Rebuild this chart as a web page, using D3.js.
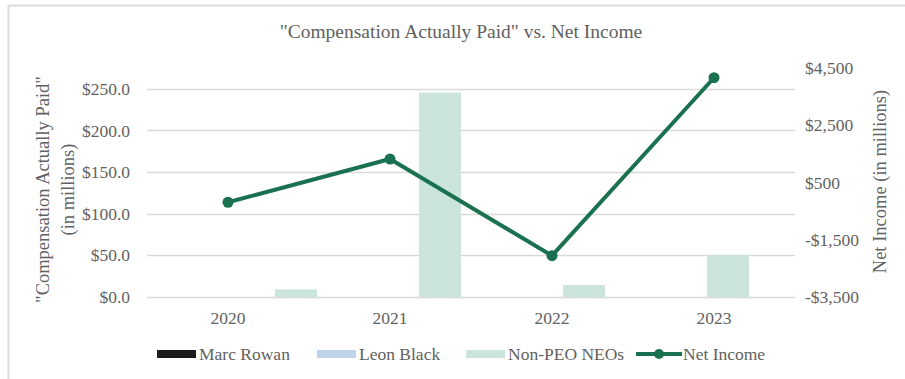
<!DOCTYPE html>
<html>
<head>
<meta charset="utf-8">
<script src="https://cdn.jsdelivr.net/npm/d3@7"></script>
<style>
  body { margin: 0; background: #fff; }
  svg text { font-family: "Liberation Serif", "DejaVu Serif", serif; fill: #616161; }
</style>
</head>
<body>
<svg id="chart" width="905" height="379"></svg>
<script>
// values
var years = ['2020', '2021', '2022', '2023'];
var seriesNames = ['Marc Rowan', 'Leon Black', 'Non-PEO NEOs'];
var marcRowan = [0, 0, 0, 0];
var leonBlack = [0, 0, 0, 0];
var nonPeo = [9.2, 245.5, 14.4, 50.3];
var netIncome = [-190, 1320, -2055, 4160];
var leftTicks = [0, 50, 100, 150, 200, 250];
var rightTicks = [-3500, -1500, 500, 2500, 4500];
var seriesColors = ['#1c1c1c', '#bfd4e8', '#cce5dc'];
var lineColor = '#1a7150';

var svg = d3.select('#chart'),
    margin = {top: 68, right: 110, bottom: 82, left: 147},
    width = +svg.attr('width') - margin.left - margin.right,
    height = +svg.attr('height') - margin.top - margin.bottom;

// frame lines (top + left)
svg.append('line').attr('x1', 8).attr('x2', 905).attr('y1', 5.5).attr('y2', 5.5)
    .attr('stroke', '#dcdcdc').attr('stroke-width', 2);
svg.append('line').attr('x1', 8.5).attr('x2', 8.5).attr('y1', 5).attr('y2', 379)
    .attr('stroke', '#dcdcdc').attr('stroke-width', 2);

var g = svg.append('g')
    .attr('transform', 'translate(' + margin.left + ',' + margin.top + ')');

var x = d3.scalePoint().domain(years).range([0, width]).padding(0.5);
var xBar = d3.scaleBand().domain(years).range([44, 602]).paddingInner(0.125);
var xSeries = d3.scaleBand().domain(seriesNames).range([0, xBar.bandwidth()]);
var y = d3.scaleLinear().domain([0, 275]).range([height, 0]);
var y2 = d3.scaleLinear().domain([-3500, 4500]).range([height, 0]);

// gridlines
g.append('g')
    .selectAll('line')
    .data(leftTicks)
    .enter().append('line')
      .attr('x1', 0).attr('x2', width)
      .attr('y1', function(d) { return Math.round(y(d)) + 0.5; })
      .attr('y2', function(d) { return Math.round(y(d)) + 0.5; })
      .attr('stroke', '#d9d9d9').attr('stroke-width', 1.5);

// left axis
var yAxis = g.append('g')
    .call(d3.axisLeft(y).tickValues(leftTicks).tickSize(0).tickPadding(17)
      .tickFormat(function(d) { return '$' + d3.format('.1f')(d); }));
yAxis.select('.domain').remove();
yAxis.selectAll('text').style('font-size', '17.5px');

// right axis
var y2Axis = g.append('g')
    .attr('transform', 'translate(' + width + ',0)')
    .call(d3.axisRight(y2).tickValues(rightTicks).tickSize(0).tickPadding(10)
      .tickFormat(function(d) { return (d < 0 ? '-$' : '$') + d3.format(',')(Math.abs(d)); }));
y2Axis.select('.domain').remove();
y2Axis.selectAll('text').style('font-size', '17.5px');

// x axis labels
g.append('g')
    .selectAll('text')
    .data(years)
    .enter().append('text')
      .attr('x', function(d) { return x(d); })
      .attr('y', height + 27)
      .attr('text-anchor', 'middle')
      .style('font-size', '17.5px')
      .text(function(d) { return d; });

// bars
var barData = years.map(function(yr, i) {
  return {year: yr, values: [marcRowan[i], leonBlack[i], nonPeo[i]]};
});
var group = g.selectAll('g.year')
    .data(barData)
    .enter().append('g')
      .attr('class', 'year')
      .attr('transform', function(d) { return 'translate(' + xBar(d.year) + ',0)'; });
group.selectAll('rect')
    .data(function(d) { return d.values.map(function(v, j) { return {name: seriesNames[j], value: v, color: seriesColors[j]}; }); })
    .enter().append('rect')
      .attr('x', function(d) { return xSeries(d.name); })
      .attr('width', xSeries.bandwidth())
      .attr('y', function(d) { return y(d.value); })
      .attr('height', function(d) { return height - y(d.value); })
      .attr('fill', function(d) { return d.color; });

// net income line
var line = d3.line()
    .x(function(d, i) { return x(years[i]); })
    .y(function(d) { return y2(d); });

g.append('path')
    .datum(netIncome)
    .attr('fill', 'none')
    .attr('stroke', lineColor)
    .attr('stroke-width', 4)
    .attr('stroke-linejoin', 'round')
    .attr('d', line);

g.selectAll('circle.pt')
    .data(netIncome)
    .enter().append('circle')
      .attr('class', 'pt')
      .attr('cx', function(d, i) { return x(years[i]); })
      .attr('cy', function(d) { return y2(d); })
      .attr('r', 5.5)
      .attr('fill', lineColor);

// title
svg.append('text')
    .attr('x', 461).attr('y', 38)
    .attr('text-anchor', 'middle')
    .style('font-size', '19.5px')
    .text('"Compensation Actually Paid" vs. Net Income');

// axis titles
var lt = svg.append('text')
    .attr('transform', 'translate(49,' + (margin.top + height / 2 + 7) + ') rotate(-90)')
    .attr('text-anchor', 'middle')
    .style('font-size', '18.5px');
lt.append('tspan').attr('x', 0).attr('dy', 0).text('"Compensation Actually Paid"');
lt.append('tspan').attr('x', 0).attr('dy', 25).text('(in millions)');

svg.append('text')
    .attr('transform', 'translate(886,' + (margin.top + height / 2 - 1) + ') rotate(-90)')
    .attr('text-anchor', 'middle')
    .style('font-size', '18.5px')
    .text('Net Income (in millions)');

// legend
var legendItems = [
  {name: 'Marc Rowan', color: seriesColors[0], type: 'rect', x: 157},
  {name: 'Leon Black', color: seriesColors[1], type: 'rect', x: 317},
  {name: 'Non-PEO NEOs', color: seriesColors[2], type: 'rect', x: 466},
  {name: 'Net Income', color: lineColor, type: 'line', x: 636}
];
var legend = svg.append('g')
    .selectAll('g')
    .data(legendItems)
    .enter().append('g')
      .attr('transform', function(d) { return 'translate(' + d.x + ',354)'; });
legend.filter(function(d) { return d.type === 'rect'; })
    .append('rect')
      .attr('x', 0).attr('y', -4).attr('width', 39).attr('height', 8)
      .attr('fill', function(d) { return d.color; });
legend.filter(function(d) { return d.type === 'line'; })
    .append('line')
      .attr('x1', 0).attr('x2', 46).attr('y1', 0).attr('y2', 0)
      .attr('stroke', function(d) { return d.color; }).attr('stroke-width', 4);
legend.filter(function(d) { return d.type === 'line'; })
    .append('circle')
      .attr('cx', 23).attr('cy', 0).attr('r', 5)
      .attr('fill', function(d) { return d.color; });
legend.append('text')
    .attr('x', function(d) { return d.type === 'line' ? 47 : 42; })
    .attr('y', 6)
    .style('font-size', '17.5px')
    .text(function(d) { return d.name; });
</script>
</body>
</html>
